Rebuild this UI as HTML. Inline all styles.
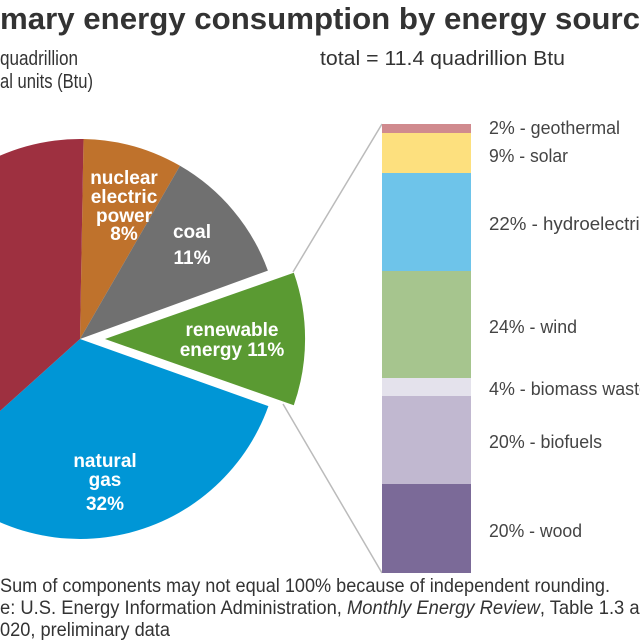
<!DOCTYPE html>
<html><head><meta charset="utf-8"><style>html,body{margin:0;padding:0;background:#fff}svg{display:block}</style></head>
<body>
<svg width="640" height="640" viewBox="0 0 640 640" xmlns="http://www.w3.org/2000/svg" font-family="Liberation Sans, Arial, sans-serif">
<text x="0" y="29" font-size="31" font-weight="bold" fill="#333" textLength="640" lengthAdjust="spacingAndGlyphs">mary energy consumption by energy sourc</text>
<g font-size="20" fill="#333" lengthAdjust="spacingAndGlyphs">
<text x="0" y="65" textLength="78" lengthAdjust="spacingAndGlyphs">quadrillion</text>
<text x="0" y="88" textLength="93" lengthAdjust="spacingAndGlyphs">al units (Btu)</text>
<text x="320" y="65" textLength="245" lengthAdjust="spacingAndGlyphs">total = 11.4 quadrillion Btu</text>
</g>
<path d="M80,339 L83.5,139 A200,200 0 0 1 180,165.8 Z" fill="#bf722c"/>
<path d="M80,339 L180,165.8 A200,200 0 0 1 267.9,270.6 Z" fill="#707070"/>
<path d="M80,339 L268.4,406.1 A200,200 0 0 1 -68.6,472.8 Z" fill="#0096d6"/>
<path d="M80,339 L-68.6,472.8 A200,200 0 0 1 83.5,139 Z" fill="#9e3040"/>
<path d="M105,339 L293.8,272.8 A200,200 0 0 1 293.8,405.2 Z" fill="#5a9a32"/>
<line x1="293" y1="272" x2="382" y2="124" stroke="#bbb" stroke-width="1.5"/>
<line x1="283" y1="404" x2="382" y2="573" stroke="#bbb" stroke-width="1.5"/>
<g font-size="19" font-weight="bold" fill="#fff" text-anchor="middle">
<text x="124" y="184">nuclear</text>
<text x="124" y="203">electric</text>
<text x="124" y="222">power</text>
<text x="124" y="240">8%</text>
<text x="192" y="238">coal</text>
<text x="192" y="264">11%</text>
<text x="232" y="336">renewable</text>
<text x="232" y="356">energy 11%</text>
<text x="105" y="467">natural</text>
<text x="105" y="486">gas</text>
<text x="105" y="510">32%</text>
</g>
<rect x="382" y="124" width="89" height="9" fill="#d08a8e"/>
<rect x="382" y="133" width="89" height="40" fill="#fde07e"/>
<rect x="382" y="173" width="89" height="98" fill="#6ec4ea"/>
<rect x="382" y="271" width="89" height="107" fill="#a6c58e"/>
<rect x="382" y="378" width="89" height="18" fill="#e4e2ec"/>
<rect x="382" y="396" width="89" height="88" fill="#c1b8d0"/>
<rect x="382" y="484" width="89" height="89" fill="#7b6a98"/>
<g font-size="18" fill="#444">
<text x="489" y="134" textLength="131" lengthAdjust="spacingAndGlyphs">2% - geothermal</text>
<text x="489" y="162" textLength="79" lengthAdjust="spacingAndGlyphs">9% - solar</text>
<text x="489" y="230" textLength="160" lengthAdjust="spacingAndGlyphs">22% - hydroelectric</text>
<text x="489" y="333" textLength="88" lengthAdjust="spacingAndGlyphs">24% - wind</text>
<text x="489" y="395" textLength="160" lengthAdjust="spacingAndGlyphs">4% - biomass waste</text>
<text x="489" y="448" textLength="113" lengthAdjust="spacingAndGlyphs">20% - biofuels</text>
<text x="489" y="537" textLength="93" lengthAdjust="spacingAndGlyphs">20% - wood</text>
</g>
<g font-size="19" fill="#333">
<text x="0" y="592" textLength="610" lengthAdjust="spacingAndGlyphs">Sum of components may not equal 100% because of independent rounding.</text>
<text x="0" y="614" textLength="660" lengthAdjust="spacingAndGlyphs">e: U.S. Energy Information Administration, <tspan font-style="italic">Monthly Energy Review</tspan>, Table 1.3 and</text>
<text x="0" y="636" textLength="170" lengthAdjust="spacingAndGlyphs">020, preliminary data</text>
</g>
</svg>
</body></html>
